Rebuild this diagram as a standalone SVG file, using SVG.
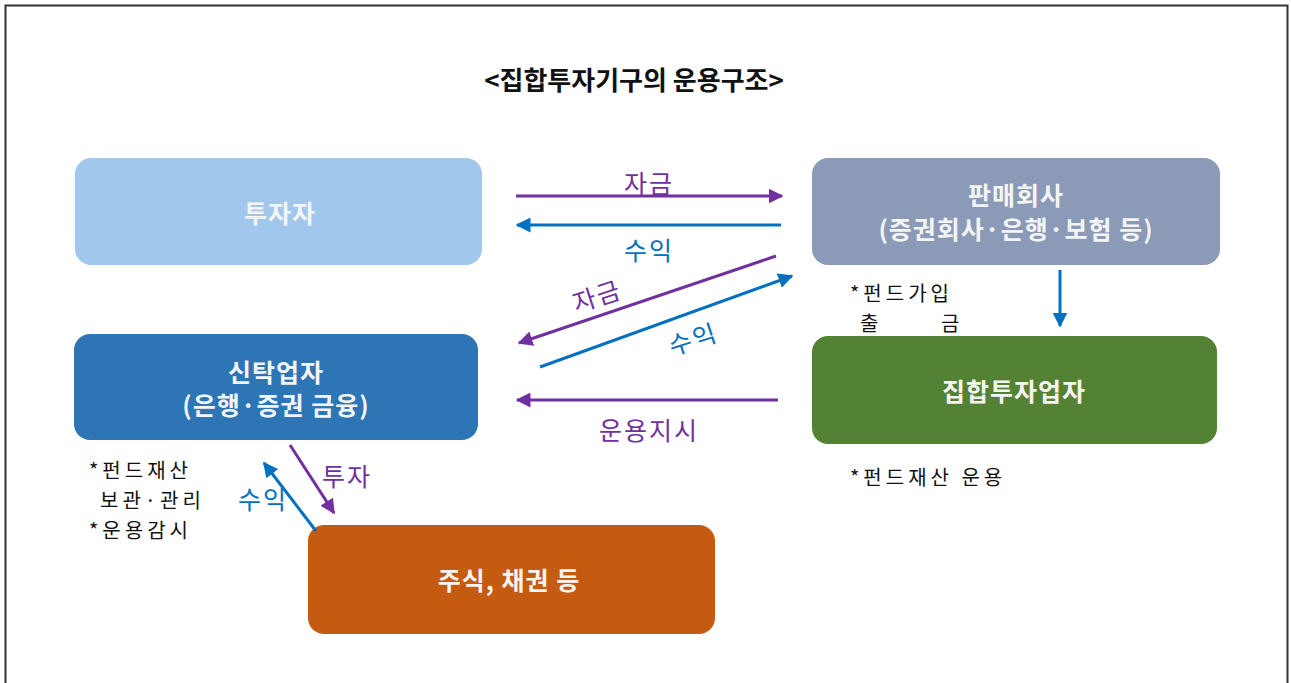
<svg xmlns="http://www.w3.org/2000/svg" width="1291" height="683" viewBox="0 0 1291 683">
<defs>
<style>
text{font-family:"Noto Sans CJK KR","Noto Sans",sans-serif}
.node{font-size:25px;font-weight:bold;fill:#F4F4F4;text-anchor:middle;letter-spacing:1px}
.title{font-size:26px;font-weight:bold;fill:#111;text-anchor:middle}
.lbl{font-size:25px;text-anchor:middle;letter-spacing:2px}
.p{fill:#7030A0}
.b{fill:#0070C0}
.note{font-size:20px;fill:#111;letter-spacing:4px}
.lp{stroke:#7030A0;stroke-width:3;fill:none}
.lb{stroke:#0070C0;stroke-width:3;fill:none}
</style>
<marker id="ap" viewBox="0 0 10 10" refX="9" refY="5" markerWidth="5" markerHeight="5" orient="auto" markerUnits="strokeWidth"><path d="M0,0 L10,5 L0,10 z" fill="#7030A0"/></marker>
<marker id="ab" viewBox="0 0 10 10" refX="9" refY="5" markerWidth="5" markerHeight="5" orient="auto" markerUnits="strokeWidth"><path d="M0,0 L10,5 L0,10 z" fill="#0070C0"/></marker>
</defs>
<rect x="0" y="0" width="1291" height="683" fill="#FFFFFF"/>
<path d="M5.5,683 L5.5,5.5 L1287.5,5.5 L1287.5,683" fill="none" stroke="#333" stroke-width="2"/>
<text class="title" x="634" y="90">&lt;집합투자기구의 운용구조&gt;</text>

<g id="investor"><rect x="75" y="158" width="407" height="107" rx="16" fill="#A2C7EC"/><text class="node" x="280" y="223">투자자</text></g>
<g id="seller"><rect x="812" y="158" width="408" height="107" rx="16" fill="#8A9AB7"/><text class="node" x="1016" y="205">판매회사</text><text class="node" x="1016" y="239">(증권회사·은행·보험 등)</text></g>
<g id="trustee"><rect x="74" y="334" width="404" height="106" rx="16" fill="#2E75B6"/><text class="node" x="276" y="382">신탁업자</text><text class="node" x="276" y="415">(은행·증권 금융)</text></g>
<g id="manager"><rect x="812" y="336" width="405" height="108" rx="16" fill="#548235"/><text class="node" x="1014" y="401">집합투자업자</text></g>
<g id="assets"><rect x="308" y="525" width="407" height="109" rx="16" fill="#C55A11"/><text class="node" x="509" y="590">주식, 채권 등</text></g>

<g id="connectors">
<line class="lp" x1="516" y1="196" x2="782" y2="196" marker-end="url(#ap)"/>
<line class="lb" x1="781" y1="225" x2="517" y2="225" marker-end="url(#ab)"/>
<line class="lp" x1="776" y1="256" x2="519" y2="343" marker-end="url(#ap)"/>
<line class="lb" x1="540" y1="367" x2="792" y2="276" marker-end="url(#ab)"/>
<line class="lp" x1="778" y1="400" x2="517" y2="400" marker-end="url(#ap)"/>
<line class="lb" x1="1060" y1="270" x2="1060" y2="326" marker-end="url(#ab)"/>
<line class="lp" x1="290" y1="445" x2="334" y2="513" marker-end="url(#ap)"/>
<line class="lb" x1="316" y1="531" x2="264" y2="463" marker-end="url(#ab)"/>
</g>

<g id="labels">
<text class="lbl p" x="649" y="193">자금</text>
<text class="lbl b" x="649" y="260">수익</text>
<text class="lbl p" transform="translate(600,305) rotate(-18)">자금</text>
<text class="lbl b" transform="translate(696,348) rotate(-18)">수익</text>
<text class="lbl p" x="649" y="440">운용지시</text>
<text class="lbl p" x="347" y="486">투자</text>
<text class="lbl b" x="263" y="509">수익</text>
<text class="note" x="850" y="301">*펀드가입</text>
<text class="note" x="860" y="331">출</text>
<text class="note" x="941" y="331">금</text>
<text class="note" x="850" y="485">*펀드재산 운용</text>
<text class="note" x="89" y="478">*펀드재산</text>
<text class="note" x="100" y="508">보관·관리</text>
<text class="note" x="89" y="538">*운용감시</text>
</g>
</svg>
